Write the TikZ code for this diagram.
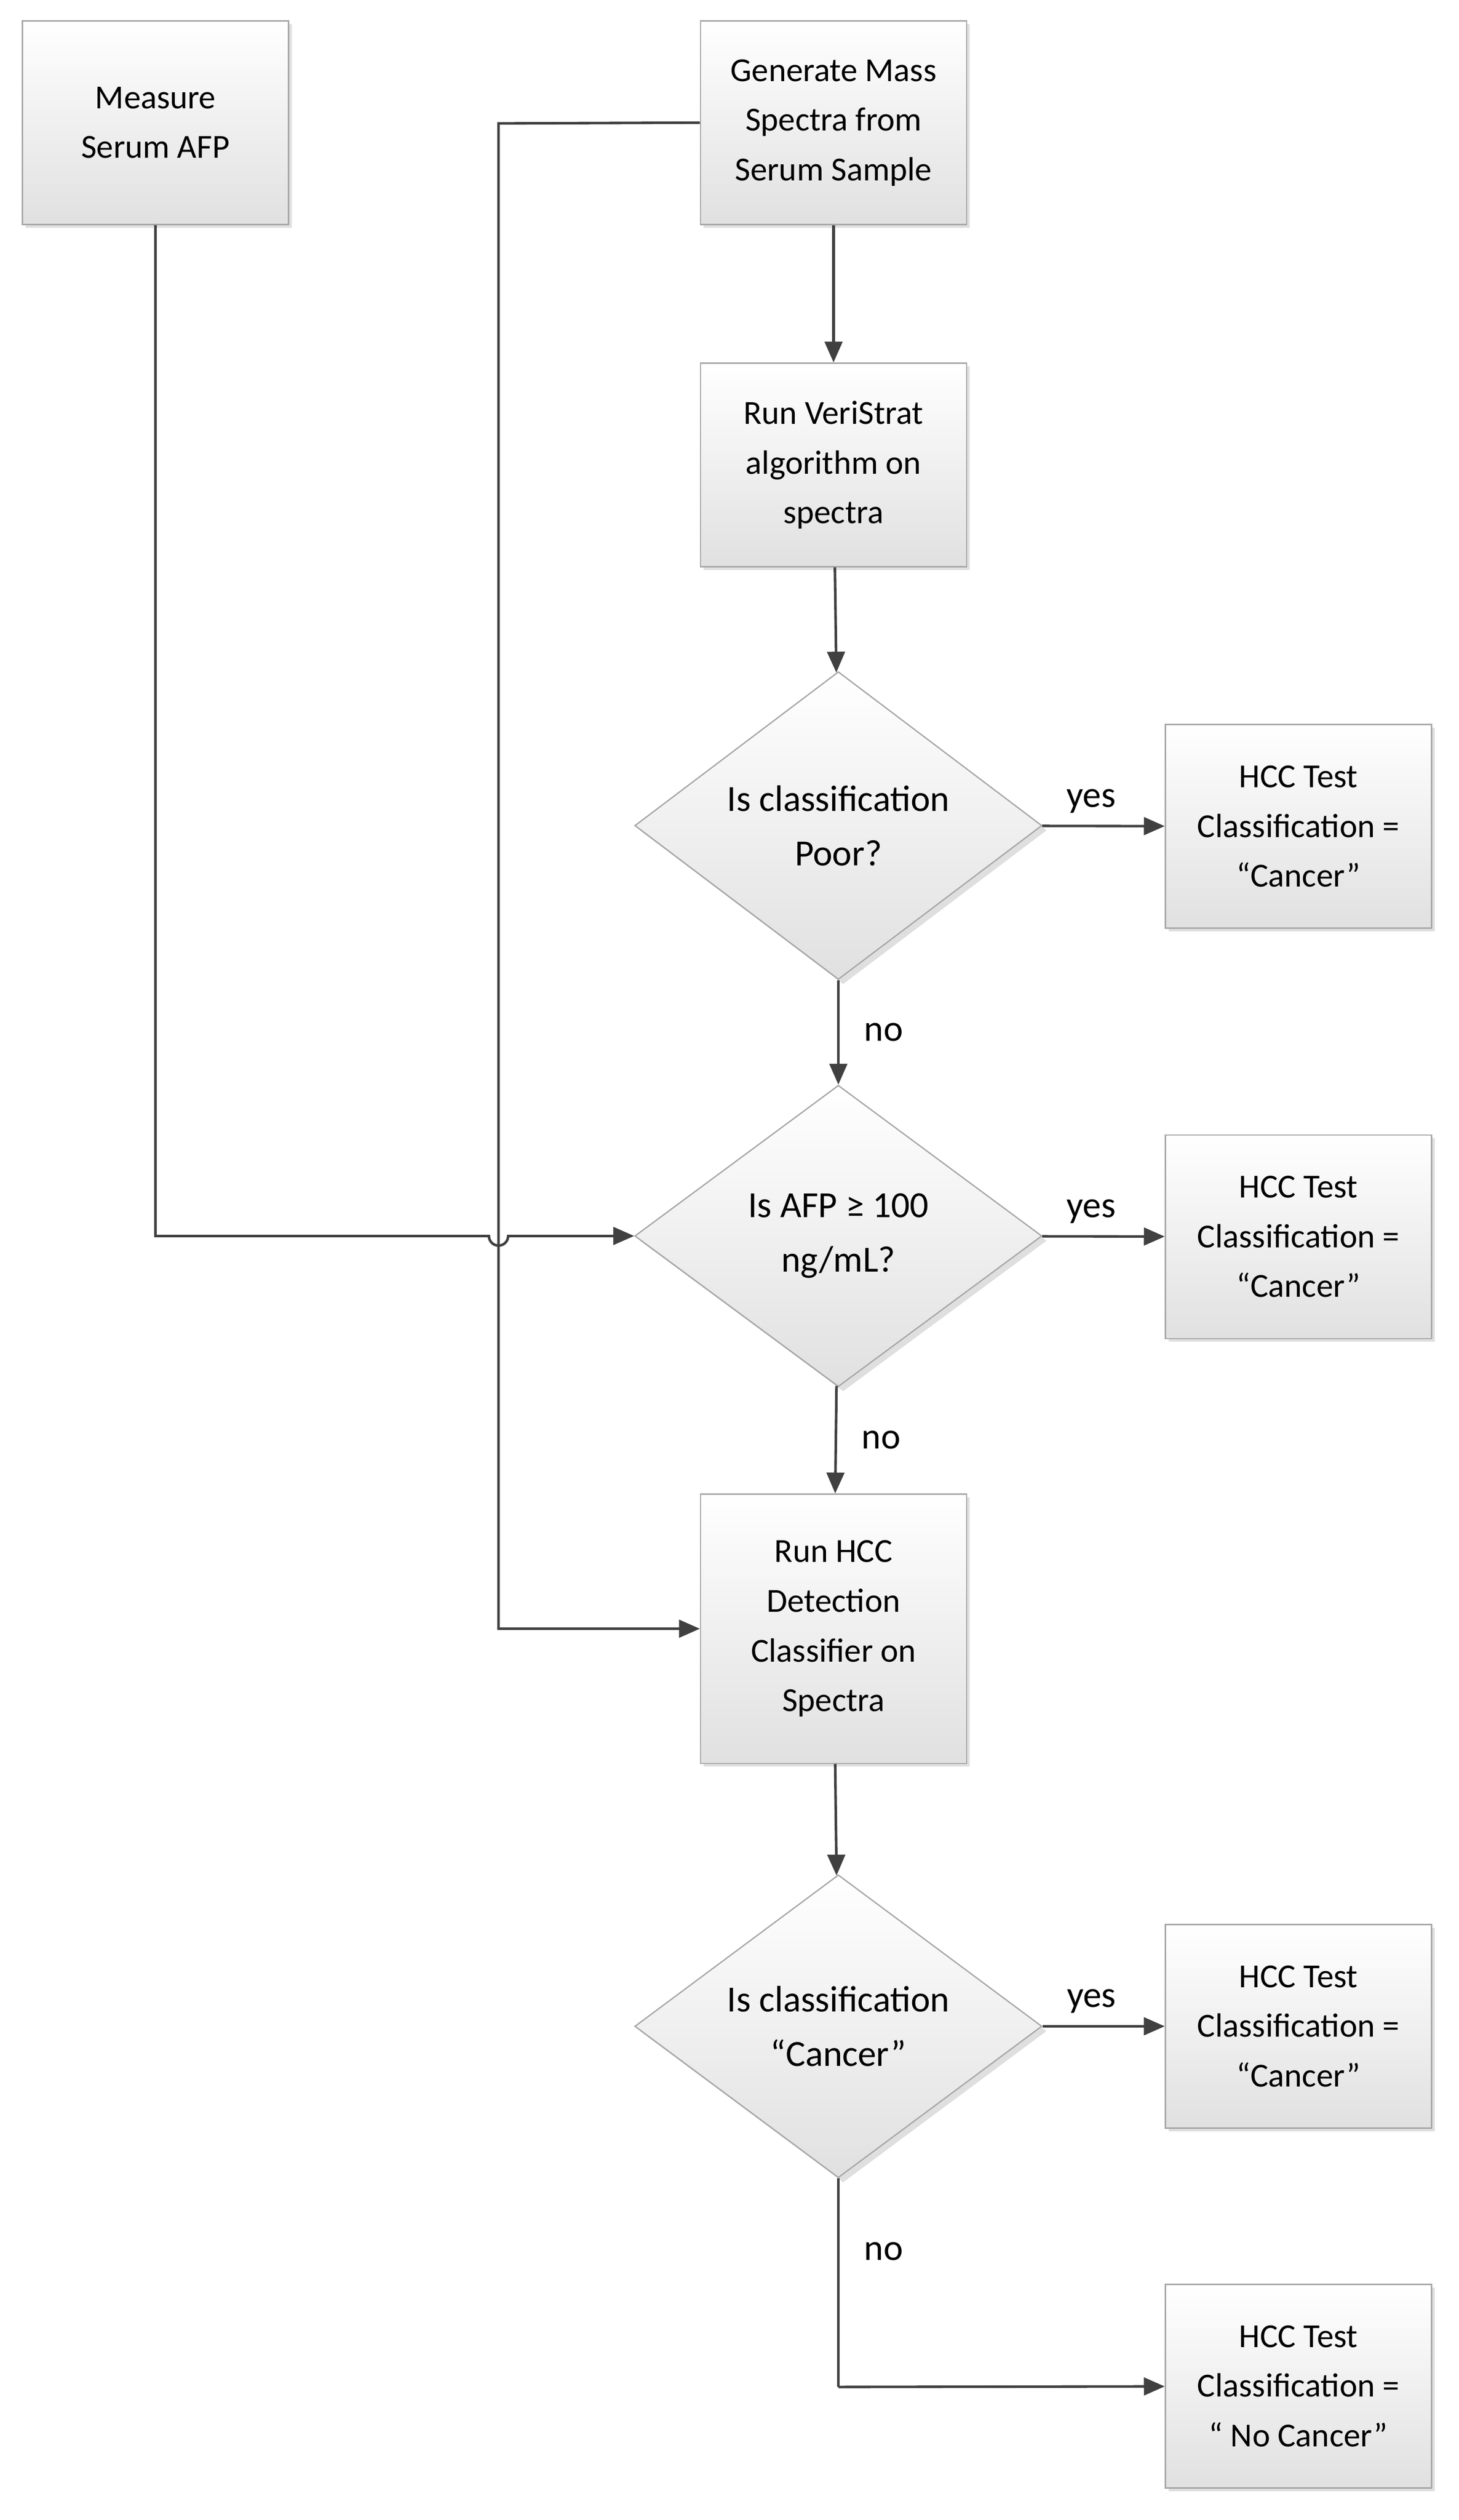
\documentclass[tikz,border=0pt]{standalone}
\usepackage{fontspec}
\setmainfont{Carlito}
\usetikzlibrary{shapes.geometric,arrows.meta,shadows}
\definecolor{ln}{HTML}{404040}
\definecolor{bd}{HTML}{A6A6A6}
\begin{document}
\begin{tikzpicture}[x=1pt,y=-1pt,
 box/.style={draw=bd,line width=0.8pt,top color=white,bottom color=black!12,drop shadow={shadow xshift=2pt,shadow yshift=-2pt,opacity=0.25},minimum width=166pt,minimum height=127pt,align=center,inner sep=2pt,font=\fontsize{21}{31}\selectfont},
 dia/.style={draw=bd,line width=0.8pt,top color=white,bottom color=black!12,drop shadow={shadow xshift=3pt,shadow yshift=-3pt,opacity=0.25},diamond,minimum width=254pt,minimum height=190pt,inner sep=0pt,align=center,font=\fontsize{23}{34}\selectfont},
 ar/.style={draw=ln,line width=1.6pt,-{Triangle[length=13pt,width=11pt]}},
 plain/.style={draw=ln,line width=1.6pt},
 lab/.style={font=\fontsize{23}{28}\selectfont}]
\useasboundingbox (0,0) rectangle (910,1572);
\node[box] (afp) at (97,76.5) {Measure\\Serum AFP};
\node[box] (gen) at (520,76.5) {Generate Mass\\Spectra from\\Serum Sample};
\node[box] (vs) at (520,290) {Run VeriStrat\\algorithm on\\spectra};
\node[dia,minimum height=192pt] (d1) at (523,515) {Is classification\\Poor?};
\node[box] (c1) at (810,515.5) {HCC Test\\Classification =\\“Cancer”};
\node[dia,minimum height=188pt] (d2) at (523,771) {Is AFP ≥ 100\\ng/mL?};
\node[box] (c2) at (810,771.5) {HCC Test\\Classification =\\“Cancer”};
\node[box,minimum height=168pt] (hcc) at (520,1016) {Run HCC\\Detection\\Classifier on\\Spectra};
\node[dia,minimum height=188pt] (d3) at (523,1264) {Is classification\\“Cancer”};
\node[box] (c3) at (810,1264) {HCC Test\\Classification =\\“Cancer”};
\node[box] (c4) at (810,1488.5) {HCC Test\\Classification =\\“ No Cancer”};
\coordinate (g1) at (311,77);
\coordinate (a1) at (97,771);
\coordinate (k4) at (523,1489);
\draw[ar] (gen) -- (vs);
\draw[ar] (vs) -- (d1);
\draw[ar] (d1) -- node[lab,above=4pt,pos=0.4]{yes} (c1);
\draw[ar] (d1) -- node[lab,right=12pt]{no} (d2);
\draw[ar] (d2) -- node[lab,above=4pt,pos=0.4]{yes} (c2);
\draw[ar] (d2) -- node[lab,right=12pt]{no} (hcc);
\draw[ar] (hcc) -- (d3);
\draw[ar] (d3) -- node[lab,above=4pt,pos=0.4]{yes} (c3);
\draw[plain] (d3.south) -- node[lab,right=12pt,pos=0.35]{no} (k4);
\draw[ar] (k4) -- (c4);
\draw[ar] (gen.west) -- (g1) -- (g1 |- hcc.west) -- (hcc.west);
\draw[ar] (afp.south) -- (a1) -- (305,771) arc[start angle=180,end angle=0,radius=6] -- (d2.west);
\end{tikzpicture}
\end{document}
